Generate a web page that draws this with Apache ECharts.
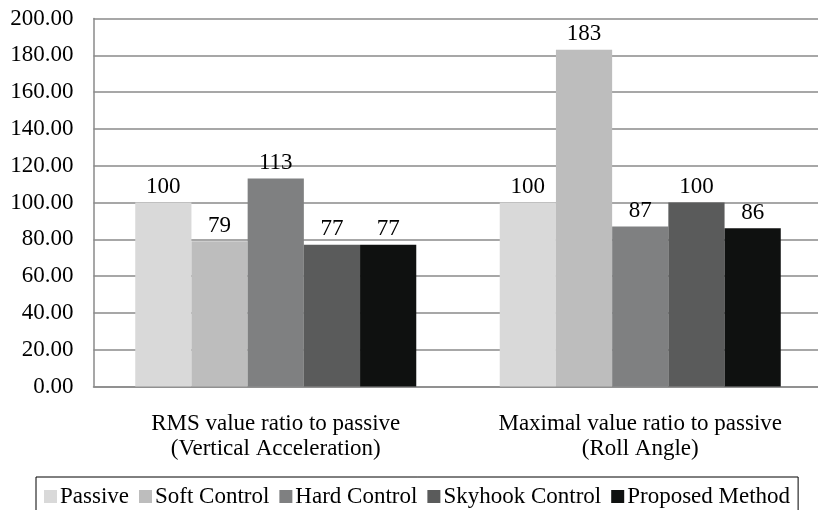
<!DOCTYPE html>
<html>
<head>
<meta charset="utf-8">
<script src="https://cdn.jsdelivr.net/npm/echarts@6/dist/echarts.min.js"></script>
<style>
  html, body { margin: 0; padding: 0; background: #fff; }
  #chart { width: 818px; height: 510px; }
</style>
</head>
<body>
<div id="chart"></div>
<script>
// Ratios to the passive suspension (passive = 100)
const categories = [
  'RMS value ratio to passive\n(Vertical Acceleration)',
  'Maximal value ratio to passive\n(Roll Angle)'
];
const seriesNames = ['Passive', 'Soft Control', 'Hard Control', 'Skyhook Control', 'Proposed Method'];
const passive = [100, 100];
const softControl = [79, 183];
const hardControl = [113, 87];
const skyhookControl = [77, 100];
const proposedMethod = [77, 86];
const yTicks = { min: 0, max: 200, step: 20 };

const seriesValues = [passive, softControl, hardControl, skyhookControl, proposedMethod];
const colors = ['#d9d9d9', '#bdbdbd', '#7f8081', '#5a5b5b', '#0f1110'];
const FONT = "'Liberation Serif', 'Times New Roman', serif";

const chart = echarts.init(document.getElementById('chart'), null, { renderer: 'canvas' });

chart.setOption({
  backgroundColor: '#ffffff',
  animation: false,
  textStyle: { fontFamily: FONT, color: '#000' },
  grid: {
    left: 93.5,
    top: 18.5,
    width: 729,
    height: 368,
    containLabel: false,
    outerBoundsMode: 'none'
  },
  legend: {
    left: 36,
    top: 477,
    padding: [8, 8, 40, 8],
    itemGap: 10,
    itemWidth: 13,
    itemHeight: 13,
    icon: 'rect',
    borderColor: '#000',
    borderWidth: 1,
    textStyle: { fontFamily: FONT, fontSize: 23, color: '#000', padding: [0, 0, 0, -2] },
    data: seriesNames
  },
  xAxis: {
    type: 'category',
    data: categories,
    axisLine: { show: true, lineStyle: { color: '#8a8a8a', width: 1.5 } },
    axisTick: { show: false },
    axisLabel: {
      fontFamily: FONT,
      fontSize: 23,
      lineHeight: 25,
      color: '#000',
      margin: 25,
      interval: 0
    }
  },
  yAxis: {
    type: 'value',
    min: yTicks.min,
    max: yTicks.max,
    interval: yTicks.step,
    axisLine: { show: true, lineStyle: { color: '#8a8a8a', width: 1.5 } },
    axisTick: { show: false },
    axisLabel: {
      fontFamily: FONT,
      fontSize: 23,
      color: '#000',
      margin: 20,
      formatter: v => v.toFixed(2)
    },
    splitLine: { show: true, lineStyle: { color: '#8a8a8a', width: 1.5 } }
  },
  series: seriesNames.map((name, i) => ({
    name: name,
    type: 'bar',
    data: seriesValues[i],
    barGap: '0%',
    barCategoryGap: '22.9%',
    itemStyle: { color: colors[i] },
    label: {
      show: true,
      position: 'top',
      distance: 4,
      fontFamily: FONT,
      fontSize: 23,
      color: '#000',
      formatter: p => String(p.value)
    }
  }))
});
</script>
</body>
</html>
